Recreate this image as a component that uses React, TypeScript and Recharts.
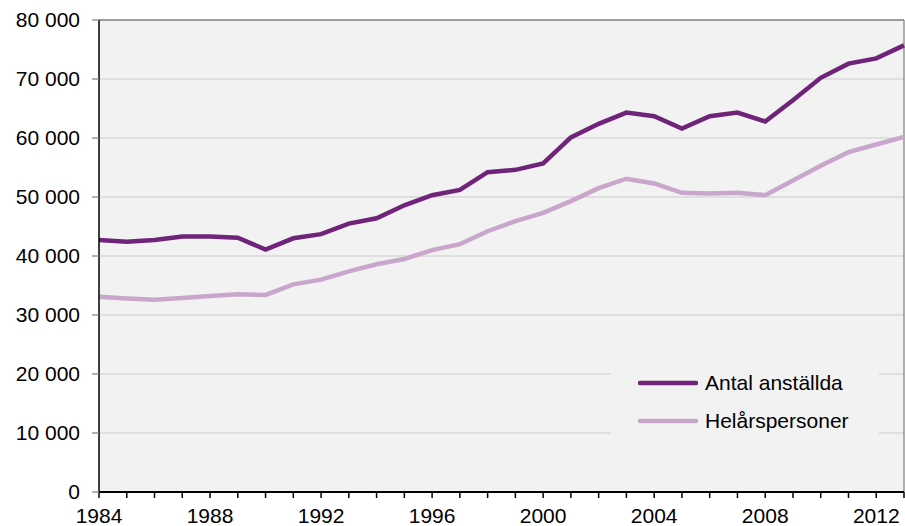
import React from "react";
import {
  LineChart,
  Line,
  XAxis,
  YAxis,
  CartesianGrid,
  ReferenceLine,
} from "recharts";

const years = [
  1984, 1985, 1986, 1987, 1988, 1989, 1990, 1991, 1992, 1993, 1994, 1995, 1996,
  1997, 1998, 1999, 2000, 2001, 2002, 2003, 2004, 2005, 2006, 2007, 2008, 2009,
  2010, 2011, 2012, 2013,
];

const antalAnstallda = [
  42700, 42400, 42700, 43300, 43300, 43100, 41100, 43000, 43700, 45500, 46400,
  48600, 50300, 51200, 54200, 54600, 55700, 60100, 62400, 64300, 63700, 61600,
  63700, 64300, 62800, 66400, 70200, 72600, 73500, 75700,
];

const helarspersoner = [
  33100, 32800, 32600, 32900, 33200, 33500, 33400, 35200, 36000, 37400, 38600,
  39500, 41000, 42000, 44200, 45900, 47300, 49300, 51500, 53100, 52300, 50700,
  50600, 50700, 50300, 52800, 55300, 57600, 58900, 60200,
];

const yTicks = [0, 10000, 20000, 30000, 40000, 50000, 60000, 70000, 80000];
const xLabelYears = [1984, 1988, 1992, 1996, 2000, 2004, 2008, 2012];

const seriesNames = ["Antal anställda", "Helårspersoner"];
const seriesColors = ["#6f2479", "#c9a6cc"];

const data = years.map((y, i) => ({
  year: y,
  a: antalAnstallda[i],
  h: helarspersoner[i],
}));

const FONT = "'Liberation Sans', Arial, sans-serif";
const FS = 21;

const fmt = (v: number) =>
  v === 0 ? "0" : String(v).replace(/\B(?=(\d{3})+(?!\d))/g, " ");

const LegendBox = () => (
  <div
    style={{
      position: "absolute",
      left: 611,
      top: 358,
      background: "#f2f2f2",
      width: 268,
      height: 86,
      fontFamily: FONT,
      fontSize: FS,
      color: "#000",
    }}
  >
    {seriesNames.map((n, i) => (
      <div
        key={n}
        style={{
          position: "absolute",
          left: 27,
          top: 13 + i * 38,
          height: 24,
          display: "flex",
          alignItems: "center",
          whiteSpace: "nowrap",
        }}
      >
        <svg width={60} height={8} style={{ display: "block" }}>
          <line
            x1={2}
            y1={4}
            x2={58}
            y2={4}
            stroke={seriesColors[i]}
            strokeWidth={4.5}
            strokeLinecap="round"
          />
        </svg>
        <span style={{ marginLeft: 7 }}>{n}</span>
      </div>
    ))}
  </div>
);

export default function App() {
  return (
    <div
      style={{
        position: "absolute",
        left: 0,
        top: 0,
        width: 905,
        height: 526,
        background: "#fff",
      }}
    >
      <LineChart
        width={905}
        height={526}
        data={data}
        margin={{ top: 20, right: 1, left: 0, bottom: 0 }}
      >
        <CartesianGrid
          vertical={false}
          stroke="#d9d9d9"
          strokeWidth={1.3}
          fill="#f2f2f2"
        />
        <XAxis
          dataKey="year"
          type="number"
          domain={[1984, 2013]}
          ticks={years}
          interval={0}
          height={34}
          tickFormatter={(v: number) =>
            xLabelYears.includes(v) ? String(v) : ""
          }
          axisLine={{ stroke: "#000", strokeWidth: 2 }}
          tickLine={{ stroke: "#000", strokeWidth: 1.5 }}
          tickSize={6}
          tickMargin={10}
          tick={{ fill: "#000", fontSize: FS, fontFamily: FONT }}
        />
        <YAxis
          type="number"
          domain={[0, 80000]}
          ticks={yTicks}
          interval={0}
          width={99}
          tickFormatter={fmt}
          axisLine={{ stroke: "#000", strokeWidth: 1.5 }}
          tickLine={{ stroke: "#868686", strokeWidth: 1.3 }}
          tickSize={7}
          tickMargin={12}
          tick={{ fill: "#000", fontSize: FS, fontFamily: FONT }}
        />
        <ReferenceLine y={80000} stroke="#868686" strokeWidth={1.3} />
        <ReferenceLine x={2013} stroke="#868686" strokeWidth={1.3} />
        <Line
          type="linear"
          dataKey="h"
          name={seriesNames[1]}
          stroke={seriesColors[1]}
          strokeWidth={4.5}
          dot={false}
          activeDot={false}
          isAnimationActive={false}
        />
        <Line
          type="linear"
          dataKey="a"
          name={seriesNames[0]}
          stroke={seriesColors[0]}
          strokeWidth={4.5}
          dot={false}
          activeDot={false}
          isAnimationActive={false}
        />
      </LineChart>
      <LegendBox />
    </div>
  );
}
